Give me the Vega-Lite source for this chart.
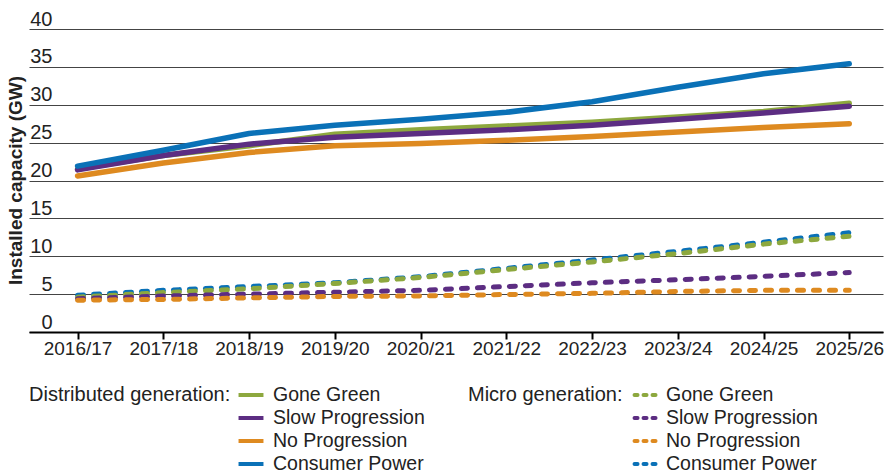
{
  "$schema": "https://vega.github.io/schema/vega-lite/v6.json",
  "width": 854,
  "height": 303,
  "autosize": {"type": "none"},
  "padding": {"left": 29, "top": 29, "right": 6, "bottom": 141},
  "background": "white",
  "config": {
    "font": "Liberation Sans",
    "view": {"stroke": null},
    "axis": {"labelColor": "#222", "titleColor": "#222", "labelFont": "Liberation Sans", "titleFont": "Liberation Sans"},
    "legend": {"labelColor": "#222", "titleColor": "#222", "labelFontSize": 19.5, "titleFontSize": 20, "titleFontWeight": "normal", "labelFont": "Liberation Sans", "titleFont": "Liberation Sans", "titleLimit": 400, "labelLimit": 400}
  },
  "datasets": {
    "capacity": [
      {"year": "2016/17", "type": "Distributed", "scenario": "Gone Green", "value": 21.5},
      {"year": "2017/18", "type": "Distributed", "scenario": "Gone Green", "value": 23.3},
      {"year": "2018/19", "type": "Distributed", "scenario": "Gone Green", "value": 24.6},
      {"year": "2019/20", "type": "Distributed", "scenario": "Gone Green", "value": 26.1},
      {"year": "2020/21", "type": "Distributed", "scenario": "Gone Green", "value": 26.7},
      {"year": "2021/22", "type": "Distributed", "scenario": "Gone Green", "value": 27.2},
      {"year": "2022/23", "type": "Distributed", "scenario": "Gone Green", "value": 27.7},
      {"year": "2023/24", "type": "Distributed", "scenario": "Gone Green", "value": 28.4},
      {"year": "2024/25", "type": "Distributed", "scenario": "Gone Green", "value": 29.1},
      {"year": "2025/26", "type": "Distributed", "scenario": "Gone Green", "value": 30.2},
      {"year": "2016/17", "type": "Distributed", "scenario": "Slow Progression", "value": 21.4},
      {"year": "2017/18", "type": "Distributed", "scenario": "Slow Progression", "value": 23.3},
      {"year": "2018/19", "type": "Distributed", "scenario": "Slow Progression", "value": 24.8},
      {"year": "2019/20", "type": "Distributed", "scenario": "Slow Progression", "value": 25.7},
      {"year": "2020/21", "type": "Distributed", "scenario": "Slow Progression", "value": 26.2},
      {"year": "2021/22", "type": "Distributed", "scenario": "Slow Progression", "value": 26.7},
      {"year": "2022/23", "type": "Distributed", "scenario": "Slow Progression", "value": 27.3},
      {"year": "2023/24", "type": "Distributed", "scenario": "Slow Progression", "value": 28.1},
      {"year": "2024/25", "type": "Distributed", "scenario": "Slow Progression", "value": 28.9},
      {"year": "2025/26", "type": "Distributed", "scenario": "Slow Progression", "value": 29.8},
      {"year": "2016/17", "type": "Distributed", "scenario": "No Progression", "value": 20.6},
      {"year": "2017/18", "type": "Distributed", "scenario": "No Progression", "value": 22.3},
      {"year": "2018/19", "type": "Distributed", "scenario": "No Progression", "value": 23.7},
      {"year": "2019/20", "type": "Distributed", "scenario": "No Progression", "value": 24.6},
      {"year": "2020/21", "type": "Distributed", "scenario": "No Progression", "value": 24.9},
      {"year": "2021/22", "type": "Distributed", "scenario": "No Progression", "value": 25.3},
      {"year": "2022/23", "type": "Distributed", "scenario": "No Progression", "value": 25.8},
      {"year": "2023/24", "type": "Distributed", "scenario": "No Progression", "value": 26.4},
      {"year": "2024/25", "type": "Distributed", "scenario": "No Progression", "value": 27.0},
      {"year": "2025/26", "type": "Distributed", "scenario": "No Progression", "value": 27.5},
      {"year": "2016/17", "type": "Distributed", "scenario": "Consumer Power", "value": 21.9},
      {"year": "2017/18", "type": "Distributed", "scenario": "Consumer Power", "value": 24.0},
      {"year": "2018/19", "type": "Distributed", "scenario": "Consumer Power", "value": 26.2},
      {"year": "2019/20", "type": "Distributed", "scenario": "Consumer Power", "value": 27.3},
      {"year": "2020/21", "type": "Distributed", "scenario": "Consumer Power", "value": 28.1},
      {"year": "2021/22", "type": "Distributed", "scenario": "Consumer Power", "value": 29.0},
      {"year": "2022/23", "type": "Distributed", "scenario": "Consumer Power", "value": 30.4},
      {"year": "2023/24", "type": "Distributed", "scenario": "Consumer Power", "value": 32.3},
      {"year": "2024/25", "type": "Distributed", "scenario": "Consumer Power", "value": 34.1},
      {"year": "2025/26", "type": "Distributed", "scenario": "Consumer Power", "value": 35.4},
      {"year": "2016/17", "type": "Micro", "scenario": "Consumer Power", "value": 4.85},
      {"year": "2017/18", "type": "Micro", "scenario": "Consumer Power", "value": 5.5},
      {"year": "2018/19", "type": "Micro", "scenario": "Consumer Power", "value": 6.0},
      {"year": "2019/20", "type": "Micro", "scenario": "Consumer Power", "value": 6.5},
      {"year": "2020/21", "type": "Micro", "scenario": "Consumer Power", "value": 7.3},
      {"year": "2021/22", "type": "Micro", "scenario": "Consumer Power", "value": 8.4},
      {"year": "2022/23", "type": "Micro", "scenario": "Consumer Power", "value": 9.5},
      {"year": "2023/24", "type": "Micro", "scenario": "Consumer Power", "value": 10.65},
      {"year": "2024/25", "type": "Micro", "scenario": "Consumer Power", "value": 11.85},
      {"year": "2025/26", "type": "Micro", "scenario": "Consumer Power", "value": 13.1},
      {"year": "2016/17", "type": "Micro", "scenario": "Gone Green", "value": 4.6},
      {"year": "2017/18", "type": "Micro", "scenario": "Gone Green", "value": 5.2},
      {"year": "2018/19", "type": "Micro", "scenario": "Gone Green", "value": 5.7},
      {"year": "2019/20", "type": "Micro", "scenario": "Gone Green", "value": 6.4},
      {"year": "2020/21", "type": "Micro", "scenario": "Gone Green", "value": 7.2},
      {"year": "2021/22", "type": "Micro", "scenario": "Gone Green", "value": 8.25},
      {"year": "2022/23", "type": "Micro", "scenario": "Gone Green", "value": 9.25},
      {"year": "2023/24", "type": "Micro", "scenario": "Gone Green", "value": 10.35},
      {"year": "2024/25", "type": "Micro", "scenario": "Gone Green", "value": 11.6},
      {"year": "2025/26", "type": "Micro", "scenario": "Gone Green", "value": 12.65},
      {"year": "2016/17", "type": "Micro", "scenario": "Slow Progression", "value": 4.4},
      {"year": "2017/18", "type": "Micro", "scenario": "Slow Progression", "value": 4.75},
      {"year": "2018/19", "type": "Micro", "scenario": "Slow Progression", "value": 5.0},
      {"year": "2019/20", "type": "Micro", "scenario": "Slow Progression", "value": 5.25},
      {"year": "2020/21", "type": "Micro", "scenario": "Slow Progression", "value": 5.5},
      {"year": "2021/22", "type": "Micro", "scenario": "Slow Progression", "value": 6.0},
      {"year": "2022/23", "type": "Micro", "scenario": "Slow Progression", "value": 6.5},
      {"year": "2023/24", "type": "Micro", "scenario": "Slow Progression", "value": 6.9},
      {"year": "2024/25", "type": "Micro", "scenario": "Slow Progression", "value": 7.35},
      {"year": "2025/26", "type": "Micro", "scenario": "Slow Progression", "value": 7.85},
      {"year": "2016/17", "type": "Micro", "scenario": "No Progression", "value": 4.2},
      {"year": "2017/18", "type": "Micro", "scenario": "No Progression", "value": 4.3},
      {"year": "2018/19", "type": "Micro", "scenario": "No Progression", "value": 4.5},
      {"year": "2019/20", "type": "Micro", "scenario": "No Progression", "value": 4.7},
      {"year": "2020/21", "type": "Micro", "scenario": "No Progression", "value": 4.75},
      {"year": "2021/22", "type": "Micro", "scenario": "No Progression", "value": 4.95},
      {"year": "2022/23", "type": "Micro", "scenario": "No Progression", "value": 5.1},
      {"year": "2023/24", "type": "Micro", "scenario": "No Progression", "value": 5.35},
      {"year": "2024/25", "type": "Micro", "scenario": "No Progression", "value": 5.5},
      {"year": "2025/26", "type": "Micro", "scenario": "No Progression", "value": 5.5}
    ]
  },
  "data": {"name": "capacity"},
  "encoding": {
    "x": {
      "field": "year",
      "type": "ordinal",
      "sort": null,
      "scale": {"type": "point", "padding": 0.48, "align": 0.59},
      "axis": {
        "title": null,
        "labelAngle": 0,
        "labelFontSize": 19,
        "labelPadding": 0,
        "domainColor": "#000",
        "domainWidth": 2,
        "tickColor": "#000",
        "tickWidth": 2,
        "tickSize": 7,
        "grid": false
      }
    },
    "y": {
      "field": "value",
      "type": "quantitative",
      "scale": {"domain": [0, 40], "nice": false},
      "axis": {
        "values": [0, 5, 10, 15, 20, 25, 30, 35, 40],
        "title": "Installed capacity (GW)",
        "titleFontSize": 19,
        "titleFontWeight": "bold",
        "titleAngle": -90,
        "titleX": -14,
        "titleY": 151,
        "titleAlign": "center",
        "titleBaseline": "middle",
        "domain": false,
        "ticks": false,
        "grid": true,
        "gridColor": "#444",
        "gridWidth": 1,
        "labelFontSize": 20,
        "labelAlign": "right",
        "labelBaseline": "alphabetic",
        "labelPadding": -23,
        "labelOffset": -4
      }
    }
  },
  "layer": [
    {
      "transform": [{"filter": "datum.type === 'Distributed'"}],
      "mark": {"type": "line", "strokeWidth": 5.5, "strokeCap": "round", "strokeJoin": "round"},
      "encoding": {
        "color": {
          "field": "scenario",
          "type": "nominal",
          "sort": null,
          "scale": {"domain": ["Gone Green", "Slow Progression", "No Progression", "Consumer Power"], "range": ["#8DA83E", "#5C2D82", "#DE8A20", "#0A71B7"]},
          "legend": {
            "title": "Distributed generation:",
            "titleOrient": "left",
            "titleAnchor": "start",
            "titlePadding": 7,
            "orient": "none",
            "legendX": 0,
            "legendY": 353,
            "symbolType": "M-1.16,0L1.16,0",
            "symbolSize": 462,
            "symbolStrokeWidth": 4,
            "labelOffset": 9,
            "rowPadding": 0,
            "encode": {"title": {"update": {"dy": {"value": 3}}}}
          }
        }
      }
    },
    {
      "transform": [{"filter": "datum.type === 'Micro'"}],
      "mark": {"type": "line", "strokeWidth": 5, "strokeCap": "round", "strokeDash": [6, 10]},
      "encoding": {
        "color": {
          "field": "scenario",
          "type": "nominal",
          "sort": null,
          "scale": {"domain": ["Gone Green", "Slow Progression", "No Progression", "Consumer Power"], "range": ["#8DA83E", "#5C2D82", "#DE8A20", "#0A71B7"]},
          "legend": {
            "title": "Micro generation:",
            "titleOrient": "left",
            "titleAnchor": "start",
            "titlePadding": 11,
            "orient": "none",
            "legendX": 439,
            "legendY": 353,
            "symbolType": "M-1.16,0L1.16,0",
            "symbolSize": 462,
            "symbolStrokeWidth": 4,
            "symbolDash": [3, 6],
            "labelOffset": 6,
            "rowPadding": 0,
            "encode": {"symbols": {"update": {"strokeCap": {"value": "round"}}}, "title": {"update": {"dy": {"value": 3}}}}
          }
        }
      }
    }
  ],
  "resolve": {"scale": {"color": "independent"}}
}
